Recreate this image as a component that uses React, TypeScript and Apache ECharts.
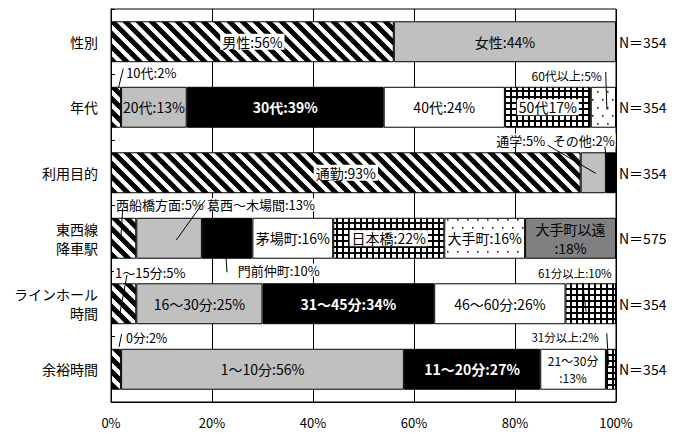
import React, { useEffect, useRef } from 'react';
import * as echarts from 'echarts';

// ---- data -------------------------------------------------------------
const categories = ['性別', '年代', '利用目的', '東西線\n降車駅', 'ラインホール\n時間', '余裕時間'];
const sampleSizes = [354, 354, 354, 575, 354, 354];

const genderNames = ['男性', '女性'];
const genderShares = [56, 44];
const ageNames = ['10代', '20代', '30代', '40代', '50代', '60代以上'];
const ageShares = [2, 13, 39, 24, 17, 5];
const purposeNames = ['通勤', '通学', 'その他'];
const purposeShares = [93, 5, 2];
const stationNames = ['西船橋方面', '葛西～木場間', '門前仲町', '茅場町', '日本橋', '大手町', '大手町以遠'];
const stationShares = [5, 13, 10, 16, 22, 16, 18];
const rideNames = ['1～15分', '16～30分', '31～45分', '46～60分', '61分以上'];
const rideShares = [5, 25, 34, 26, 10];
const spareNames = ['0分', '1～10分', '11～20分', '21～30分', '31分以上'];
const spareShares = [2, 56, 27, 13, 2];

const xTicks = [0, 20, 40, 60, 80, 100];

const rows = [
  { names: genderNames, shares: genderShares },
  { names: ageNames, shares: ageShares },
  { names: purposeNames, shares: purposeShares },
  { names: stationNames, shares: stationShares },
  { names: rideNames, shares: rideShares },
  { names: spareNames, shares: spareShares },
];

// ---- presentation -----------------------------------------------------
const FONT = "'Noto Sans CJK JP', 'Noto Sans', sans-serif";

// how each segment's label is shown
const labelKinds = [
  ['boxed', 'plain'],
  ['callout', 'plain', 'inverse', 'plain', 'boxed', 'callout'],
  ['boxed', 'callout', 'callout'],
  ['callout', 'callout', 'callout', 'plain', 'boxed', 'boxed', 'large'],
  ['callout', 'plain', 'inverse', 'plain', 'callout'],
  ['callout', 'plain', 'inverse', 'small', 'callout'],
];

const joiners: Record<string, string> = { '50代': '', '大手町以遠': '\n:', '21～30分': '\n:' };
const labelText = (name: string, v: number) => `${name}${joiners[name] ?? ':'}${v}%`;

// labels placed in the gaps between bars, with leader lines.
// at / line points are [percent along x, row position in category units]
type Callout = {
  row: number; seg: number; at: [number, number]; align: 'left' | 'right'; size: number;
  line: [[number, number], [number, number]];
};
const callouts: Callout[] = [
  { row: 1, seg: 0, at: [2.8, 0.47], align: 'left', size: 13, line: [[2.44, 0.41], [1.45, 0.71]] },
  { row: 1, seg: 5, at: [97.4, 0.51], align: 'right', size: 12, line: [[97.96, 0.46], [98.2, 1.04]] },
  { row: 2, seg: 1, at: [76.1, 1.5], align: 'left', size: 13, line: [[86.5, 1.58], [96.0, 2.01]] },
  { row: 2, seg: 2, at: [87.3, 1.5], align: 'left', size: 13, line: [[97.8, 1.6], [98.2, 1.88]] },
  { row: 3, seg: 0, at: [0.8, 2.49], align: 'left', size: 13, line: [[2.32, 2.54], [1.92, 3.03]] },
  { row: 3, seg: 1, at: [18.8, 2.49], align: 'left', size: 13, line: [[18.6, 2.42], [12.9, 3.03]] },
  { row: 3, seg: 2, at: [24.9, 3.485], align: 'left', size: 13, line: [[22.77, 3.29], [22.97, 3.52]] },
  { row: 4, seg: 0, at: [0.6, 3.53], align: 'left', size: 13, line: [[3.17, 3.56], [1.78, 4.14]] },
  { row: 4, seg: 4, at: [99.35, 3.53], align: 'right', size: 11.5, line: [[93.4, 3.68], [94.06, 4.12]] },
  { row: 5, seg: 0, at: [2.77, 4.52], align: 'left', size: 12.5, line: [[2.12, 4.46], [1.58, 4.66]] },
  { row: 5, seg: 4, at: [96.8, 4.51], align: 'right', size: 11.5, line: [[98.16, 4.45], [98.55, 4.935]] },
];

// ---- fill patterns ----------------------------------------------------
function tile(w: number, h: number, draw: (ctx: CanvasRenderingContext2D) => void) {
  const c = document.createElement('canvas');
  c.width = w;
  c.height = h;
  const ctx = c.getContext('2d')!;
  ctx.fillStyle = '#fff';
  ctx.fillRect(0, 0, w, h);
  draw(ctx);
  return { image: c, repeat: 'repeat', imageWidth: w, imageHeight: h };
}

function makeFills() {
  const p = 13;
  const hatch = tile(p, p, (ctx) => {
    ctx.strokeStyle = '#000';
    ctx.lineWidth = 5;
    for (const c of [-p, 0, p]) {
      ctx.beginPath();
      ctx.moveTo(-2 + c, -2);
      ctx.lineTo(p + 2 + c, p + 2);
      ctx.stroke();
    }
  });
  const grid = tile(6, 6, (ctx) => {
    ctx.fillStyle = '#000';
    ctx.fillRect(0, 0, 6, 2);
    ctx.fillRect(0, 0, 2, 6);
  });
  const dots = tile(10, 16, (ctx) => {
    ctx.fillStyle = '#222';
    ctx.fillRect(2, 3, 1.6, 1.6);
    ctx.fillRect(7, 11, 1.6, 1.6);
  });
  return [hatch, '#c0c0c0', '#000000', '#ffffff', grid, dots, '#808080'];
}

function itemLabel(kind: string, text: string) {
  const base: any = {
    show: true,
    position: 'inside',
    formatter: text,
    fontFamily: FONT,
    fontSize: 14,
    color: '#000',
    textBorderWidth: 0,
  };
  switch (kind) {
    case 'callout':
      return { show: false };
    case 'boxed':
      return { ...base, backgroundColor: '#fff', padding: [1, 2] };
    case 'inverse':
      return { ...base, color: '#fff', fontWeight: 'bold' };
    case 'large':
      return { ...base, lineHeight: 19 };
    case 'small':
      return { ...base, fontSize: 12, lineHeight: 17 };
    default:
      return base;
  }
}

export default function App() {
  const ref = useRef<HTMLDivElement>(null);

  useEffect(() => {
    const chart = echarts.init(ref.current!, null, { renderer: 'svg' });
    const fills = makeFills();
    const seriesCount = Math.max(...rows.map((r) => r.shares.length));

    const series = Array.from({ length: seriesCount }, (_, k) => ({
      type: 'bar',
      stack: 'total',
      barWidth: '62.5%',
      silent: true,
      itemStyle: { color: fills[k], borderColor: '#000', borderWidth: 1 },
      data: rows.map((r, ri) =>
        k < r.shares.length
          ? {
              value: r.shares[k],
              label: itemLabel(labelKinds[ri][k], labelText(r.names[k], r.shares[k])),
            }
          : '-'
      ),
    }));

    chart.setOption({
      animation: false,
      backgroundColor: '#fff',
      textStyle: { fontFamily: FONT },
      grid: { left: 111, right: 68, top: 9, bottom: 31, show: true, borderColor: '#000', borderWidth: 1, backgroundColor: '#fff' },
      xAxis: {
        type: 'value',
        min: xTicks[0],
        max: xTicks[xTicks.length - 1],
        interval: xTicks[1] - xTicks[0],
        axisLine: { show: true, lineStyle: { color: '#000' } },
        axisTick: { show: false },
        splitLine: { show: true, lineStyle: { color: '#000', width: 1 } },
        axisLabel: { formatter: '{value}%', color: '#000', fontSize: 13, margin: 14, fontFamily: FONT },
      },
      yAxis: [
        {
          type: 'category',
          inverse: true,
          data: categories,
          axisLine: { show: true, lineStyle: { color: '#000' } },
          axisTick: { show: true, inside: true, length: 4, lineStyle: { color: '#000' } },
          axisLabel: { color: '#000', fontSize: 14, lineHeight: 19, margin: 13, fontFamily: FONT },
        },
        {
          type: 'category',
          inverse: true,
          position: 'right',
          data: sampleSizes.map((n) => `N＝${n}`),
          axisLine: { show: false },
          axisTick: { show: false },
          axisLabel: { color: '#000', fontSize: 14, margin: 3, align: 'left', fontFamily: FONT },
        },
      ],
      series,
    });

    const px = (v: number) => chart.convertToPixel({ xAxisIndex: 0 }, v) as number;
    const c0 = chart.convertToPixel({ yAxisIndex: 0 }, 0) as number;
    const c1 = chart.convertToPixel({ yAxisIndex: 0 }, 1) as number;
    const py = (r: number) => c0 + (c1 - c0) * r;

    const texts = callouts.map((c) => {
      const r = rows[c.row];
      return {
        type: 'text',
        z: 100,
        silent: true,
        style: {
          text: labelText(r.names[c.seg], r.shares[c.seg]),
          x: px(c.at[0]),
          y: py(c.at[1]),
          align: c.align,
          verticalAlign: 'middle',
          textAlign: c.align,
          textVerticalAlign: 'middle',
          fontSize: c.size,
          fontFamily: FONT,
          fill: '#000',
          backgroundColor: '#fff',
          padding: [0, 1],
        },
      };
    });
    const lines = callouts.map((c) => ({
      type: 'line',
      z: 101,
      silent: true,
      shape: {
        x1: px(c.line[0][0]),
        y1: py(c.line[0][1]),
        x2: px(c.line[1][0]),
        y2: py(c.line[1][1]),
      },
      style: { stroke: '#000', lineWidth: 1 },
    }));

    chart.setOption({ graphic: [...texts, ...lines] });

    return () => chart.dispose();
  }, []);

  return (
    <div
      ref={ref}
      style={{ position: 'fixed', left: 0, top: 0, width: 684, height: 433, background: '#fff' }}
    />
  );
}
